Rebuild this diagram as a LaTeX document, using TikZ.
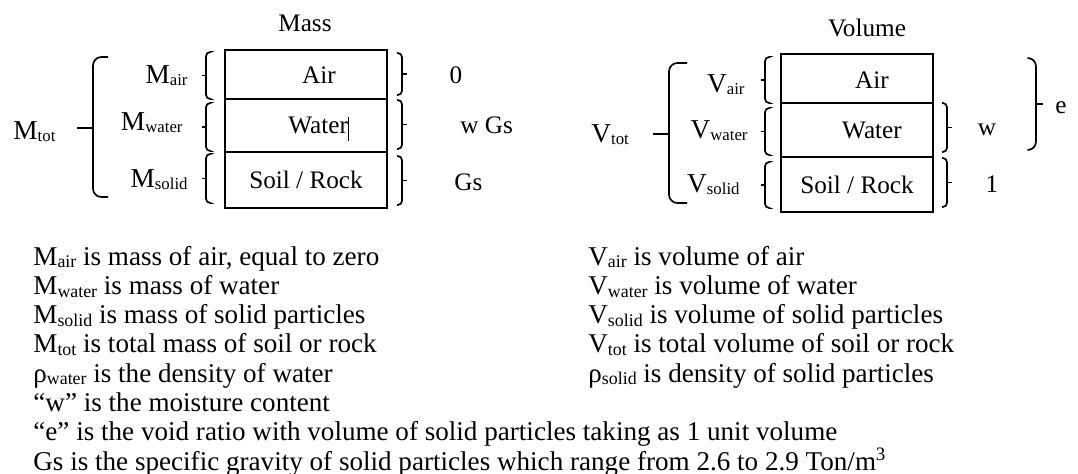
\documentclass[tikz,border=0pt]{standalone}
\usepackage{fontspec}
\setmainfont{Liberation Serif}
\usetikzlibrary{fit}
\newcommand{\subtxt}[2][8]{\raisebox{-1.3pt}{\fontsize{#1}{#1}\selectfont #2}}
% side brace: x, top, bottom, arm (negative arm = opening to the left)
\newcommand{\sidebrace}[4]{%
  \draw[brak] (#1+#4,#2) -- (#1,#2) -- (#1,#3) -- (#1+#4,#3);
  \draw[brak] (#1,{(#2+#3)/2}) -- (#1-#4,{(#2+#3)/2});}
\tikzset{
  cell/.style={draw, line width=0.6pt, inner sep=0pt},
  lbl/.style={font=\fontsize{12}{14}\selectfont, inner sep=0pt},
  sym/.style={font=\fontsize{13}{15}\selectfont, inner sep=0pt},
  note/.style={font=\fontsize{12.9}{15}\selectfont, inner sep=0pt, anchor=base west},
  brak/.style={line width=0.8pt, rounded corners=2pt},
  bigbrak/.style={line width=0.8pt, rounded corners=4pt},
}
\begin{document}
\begin{tikzpicture}[x=0.476pt, y=-0.476pt]
  \useasboundingbox (0,0) rectangle (1078,474);

  % Mass column
  \node[lbl, anchor=base] (mass) at (305,32) {Mass};
  \node[cell, fit={(225,50) (387,99)}] (mair) {};
  \node[cell, fit={(225,99) (387,152)}] (mwater) {};
  \node[cell, fit={(225,152) (387,208)}] (msolid) {};
  \node[lbl, anchor=base] (tmair) at (319,83) {Air};
  \node[lbl, anchor=base west] (tmwater) at (288,133) {Water\rule[-4pt]{0.5pt}{11.5pt}};
  \node[lbl, anchor=base] (tmsolid) at (306,188) {Soil / Rock};

  \node[sym, anchor=base east] (lmair) at (188,83) {M\subtxt{air}};
  \node[sym, anchor=base east] (lmwater) at (183,130) {M\subtxt{water}};
  \node[sym, anchor=base east] (lmsolid) at (188,187) {M\subtxt{solid}};
  \node[sym, anchor=base west] (lmtot) at (13,139) {M\subtxt{tot}};

  \sidebrace{206}{52}{99}{4}
  \sidebrace{206}{103}{151}{4}
  \sidebrace{206}{154}{203}{4}
  \sidebrace{402}{53}{95}{-5}
  \sidebrace{402}{100}{149}{-5}
  \sidebrace{402}{156}{205}{-5}
  \draw[bigbrak] (108,57) -- (93,57) -- (93,197) -- (108,197);
  \draw[bigbrak] (93,128) -- (77,128);

  \node[lbl, anchor=base] (vmair) at (456,83) {0};
  \node[lbl, anchor=base west] (vmwater) at (460,133) {w Gs};
  \node[lbl, anchor=base west] (vmsolid) at (454,190) {Gs};

  % Volume column
  \node[lbl, anchor=base] (volume) at (867,37) {Volume};
  \node[cell, fit={(781,54) (933,103)}] (vair) {};
  \node[cell, fit={(781,103) (933,157)}] (vwater) {};
  \node[cell, fit={(781,157) (933,212)}] (vsolid) {};
  \node[lbl, anchor=base] (tvair) at (872,88) {Air};
  \node[lbl, anchor=base] (tvwater) at (872,138) {Water};
  \node[lbl, anchor=base] (tvsolid) at (857,193) {Soil / Rock};

  \node[sym, anchor=base east] (lvair) at (745,92) {V\subtxt{air}};
  \node[sym, anchor=base east] (lvwater) at (748,138) {V\subtxt{water}};
  \node[sym, anchor=base east] (lvsolid) at (740,192) {V\subtxt{solid}};
  \node[sym, anchor=base west] (lvtot) at (591,142) {V\subtxt{tot}};

  \sidebrace{765}{57}{103}{4}
  \sidebrace{765}{108}{155}{4}
  \sidebrace{765}{162}{208}{4}
  \sidebrace{947}{103}{152}{-5}
  \sidebrace{947}{158}{207}{-5}
  \draw[bigbrak] (687,63) -- (669,63) -- (669,203) -- (687,203);
  \draw[bigbrak] (669,134) -- (653,134);
  \draw[bigbrak] (1028,58) -- (1036,58) -- (1036,150) -- (1028,150);
  \draw[bigbrak] (1036,104) -- (1043,104);

  \node[lbl, anchor=base] (vvwater) at (987,135) {w};
  \node[lbl, anchor=base] (vvsolid) at (992,192) {1};
  \node[lbl, anchor=base west] (vvoid) at (1055,113) {e};

  % notes
  \foreach \t [count=\i] in {
      {M\subtxt[8.5]{air} is mass of air, equal to zero},
      {M\subtxt[8.5]{water} is mass of water},
      {M\subtxt[8.5]{solid} is mass of solid particles},
      {M\subtxt[8.5]{tot} is total mass of soil or rock},
      {ρ\subtxt[8.5]{water} is the density of water},
      {“w” is the moisture content},
      {“e” is the void ratio with volume of solid particles taking as 1 unit volume},
      {Gs is the specific gravity of solid particles which range from 2.6 to 2.9 Ton/m\textsuperscript{3}}}
    \node[note] (mnote\i) at (33,{265+29.3*(\i-1)}) {\t};
  \foreach \t [count=\i] in {
      {V\subtxt[8.5]{air} is volume of air},
      {V\subtxt[8.5]{water} is volume of water},
      {V\subtxt[8.5]{solid} is volume of solid particles},
      {V\subtxt[8.5]{tot} is total volume of soil or rock},
      {ρ\subtxt[8.5]{solid} is density of solid particles}}
    \node[note] (vnote\i) at (588,{265+29.3*(\i-1)}) {\t};
\end{tikzpicture}
\end{document}
